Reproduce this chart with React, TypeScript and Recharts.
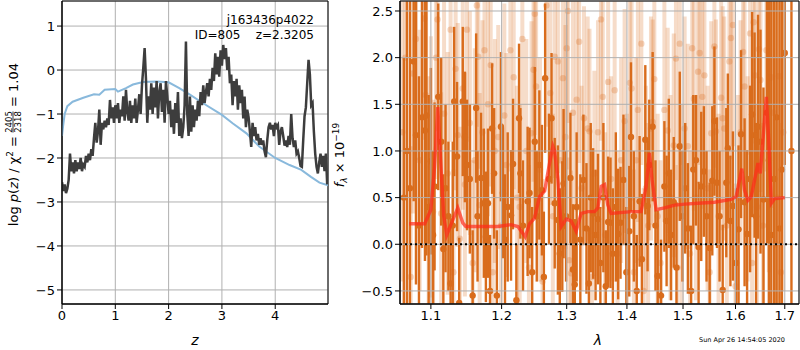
import {
  CartesianGrid,
  ErrorBar,
  Line,
  LineChart,
  ReferenceArea,
  ReferenceLine,
  Scatter,
  ComposedChart,
  XAxis,
  YAxis,
} from "recharts";

const FONT = "DejaVu Sans, sans-serif";

// left panel: log p(z), sampled every 0.025 in z
const zStep = 0.025;
const logPz = [
  -2.55, -2.75, -2.6, -2.8, -2.7, -2.5, -1.9, -2.3, -2.1, -2.35,
  -2.05, -2.3, -2.1, -2.25, -2.0, -2.3, -2.15, -2.2, -1.95, -2.1,
  -1.9, -2.05, -1.8, -1.95, -1.55, -1.2, -1.65, -1.4, -0.9, -1.7,
  -1.2, -1.35, -1.15, -1.3, -1.1, -1.25, -0.68, -1.1, -0.85, -1.2,
  -0.8, -1.1, -0.75, -1.2, -0.9, -1.05, -0.6, -1.15, -0.45, -0.95,
  -1.15, -0.7, -1.2, -0.8, -1.1, -0.65, -1.2, -0.9, -0.55, -1.0,
  -0.35, 0.05, 0.5, -0.2, -1.2, -0.6, -0.9, -0.3, -1.0, -0.4,
  -0.85, -0.25, -1.1, -0.5, -0.3, -0.95, -0.45, -1.2, -0.25, -0.6,
  -1.0, -0.7, -1.3, -0.9, -1.45, -0.75, -1.2, -0.5, -1.5, -1.1,
  -1.55, -1.3, -0.8, 0.65, -1.0, -1.5, -0.6, -1.4, -0.8, -1.3,
  -0.9, -1.15, -0.7, -1.05, -0.5, -0.8, -0.35, -0.75, -0.5, -0.3,
  -0.6, -0.2, -0.45, 0.05, -0.25, 0.38, -0.1, 0.3, -0.15, 0.45,
  0.1, 0.57, 0.25, 0.5, 0.0, 0.3, -0.3, -0.1, -0.8, -0.25,
  -0.6, -0.2, -0.9, -0.35, -0.75, -0.45, -1.1, -0.6, -1.3, -0.9,
  -1.07, -1.4, -1.75, -1.2, -1.5, -1.3, -1.6, -1.45, -1.7, -1.55,
  -1.7, -1.6, -1.85, -1.98, -1.6, -1.3, -1.2, -1.35, -1.25, -1.5,
  -1.2, -1.3, -1.25, -1.7, -1.4, -1.3, -1.5, -1.72, -1.6, -1.75,
  -1.5, -1.7, -1.0, -1.55, -1.75, -1.6, -1.9, -1.85, -2.0, -2.18,
  -2.2, -1.6, -1.05, -0.85, -0.3, 0.23, -0.1, -0.8, -0.75, -1.4,
  -1.9, -2.2, -2.35, -2.1, -1.9, -2.2, -1.95, -2.3, -1.9, -2.6,
];

// smooth prior curve
const priorZ = [0, 0.02, 0.05, 0.1, 0.2, 0.4, 0.6, 0.7, 0.8, 1.0, 1.05, 1.2, 1.33, 1.52, 1.77, 2.0, 2.2, 2.4, 2.64, 3.0, 3.2, 3.46, 3.7, 4.0, 4.27, 4.49, 4.67, 4.83, 4.99];
const priorLog = [-1.5, -1.28, -1.0, -0.82, -0.72, -0.63, -0.55, -0.56, -0.45, -0.43, -0.49, -0.41, -0.33, -0.27, -0.26, -0.28, -0.41, -0.56, -0.75, -1.02, -1.21, -1.44, -1.74, -2.0, -2.16, -2.27, -2.43, -2.56, -2.62];

const zTicks = [0, 1, 2, 3, 4];
const logTicks = [-5, -4, -3, -2, -1, 0, 1];

// right panel: spectrum (dark = primary beam, light = second beam)
const darkWave = [
  1.064, 1.068, 1.072, 1.077, 1.08, 1.084, 1.088, 1.092, 1.094, 1.097,
  1.1, 1.103, 1.105, 1.11, 1.114, 1.117, 1.12, 1.124, 1.127, 1.13,
  1.132, 1.136, 1.139, 1.144, 1.147, 1.15, 1.154, 1.158, 1.163, 1.165,
  1.17, 1.174, 1.177, 1.18, 1.183, 1.186, 1.189, 1.193, 1.199, 1.202,
  1.205, 1.209, 1.214, 1.217, 1.222, 1.226, 1.228, 1.232, 1.239, 1.242,
  1.246, 1.25, 1.253, 1.257, 1.261, 1.264, 1.266, 1.272, 1.276, 1.281,
  1.286, 1.289, 1.293, 1.295, 1.299, 1.306, 1.31, 1.313, 1.316, 1.322,
  1.327, 1.332, 1.336, 1.339, 1.343, 1.347, 1.351, 1.355, 1.36, 1.364,
  1.368, 1.372, 1.376, 1.381, 1.385, 1.389, 1.394, 1.399, 1.404, 1.407,
  1.412, 1.417, 1.422, 1.426, 1.432, 1.436, 1.439, 1.445, 1.45, 1.454,
  1.46, 1.466, 1.47, 1.474, 1.478, 1.483, 1.488, 1.494, 1.499, 1.504,
  1.509, 1.515, 1.519, 1.524, 1.529, 1.534, 1.539, 1.544, 1.55, 1.555,
  1.559, 1.564, 1.569, 1.575, 1.582, 1.585, 1.59, 1.595, 1.601, 1.606,
  1.611, 1.618, 1.623, 1.629, 1.633, 1.638, 1.641, 1.645, 1.65, 1.656,
  1.663, 1.667, 1.672, 1.678, 1.683, 1.689, 1.694, 1.7, 1.714,
];
const darkFlux = [
  0.5, 1.0, 0.6, 1.96, 1.17, 0.2, 1.36, 1.22, 1.38, 0.4,
  0.89, 0.1, 0.62, 1.58, 1.1, -0.05, 0.6, 0.3, -0.42, 0.2,
  1.53, 0.94, -0.63, 1.53, 1.15, 0.85, 0.7, -0.55, 1.46, 0.3,
  0.71, 0.44, 0.08, 0.44, -0.5, 1.24, 0.76, -0.55, 1.26, 0.55,
  0.05, 0.4, 0.31, 0.86, -0.6, 1.35, 0.76, 0.2, 0.46, 0.55,
  -0.3, 1.1, 0.3, 0.85, 0.58, -0.35, 1.78, 0.7, 1.35, 0.44,
  0.26, -0.1, 0.19, 0.65, 0.3, 0.71, -0.27, -0.43, 0.4, 0.05,
  0.69, 0.17, -0.42, 0.5, 0.33, 0.1, 0.27, -0.2, 0.5, -0.45,
  0.24, 0.23, -0.1, 0.4, 0.11, 0.23, 0.69, -0.3, 0.14, 1.15,
  0.3, -0.5, 0.46, -0.16, 1.12, 0.41, 0.85, 1.26, 0.2, -0.34,
  -0.55, 0.62, 0.25, 0.76, 0.1, 0.45, -0.25, 1.05, 0.3, 0.6,
  0.17, -0.5, 0.8, 0.9, -0.03, 0.62, 0.78, 0.3, -0.04, 0.68,
  1.32, 0.66, 0.3, -0.49, 0.66, 1.03, 0.25, 0.41, -0.2, 0.16,
  1.18, 0.45, 0.11, 0.7, 1.39, 1.17, 0.3, 1.26, 1.1, 0.48,
  1.41, 0.9, 0.1, 0.7, 1.36, 0.17, 0.8, 2.05, 1.0,
];
const darkErr = [
  1.5, 3, 3, 1.5, 1.6, 1.6, 1.4, 1.4, 1.5, 1.2,
  1.0, 0.9, 0.9, 1.0, 0.9, 0.8, 0.9, 0.8, 0.7, 0.9,
  0.8, 0.8, 0.7, 0.8, 0.7, 0.7, 0.8, 0.7, 0.8, 0.7,
  0.7, 0.8, 0.7, 0.8, 0.6, 0.7, 0.7, 0.7, 0.8, 0.7,
  0.7, 0.8, 0.7, 0.7, 0.6, 0.8, 0.7, 0.7, 0.8, 0.7,
  0.7, 0.8, 0.7, 0.8, 0.7, 0.7, 0.8, 0.7, 0.7, 0.7,
  0.8, 0.7, 0.7, 0.8, 0.7, 0.7, 0.7, 0.7, 0.8, 0.7,
  0.7, 0.7, 0.6, 0.8, 0.7, 0.7, 0.7, 0.6, 0.8, 0.6,
  0.7, 0.7, 0.7, 0.8, 0.7, 0.6, 0.7, 0.7, 0.7, 0.8,
  0.7, 0.6, 0.7, 0.7, 0.8, 0.7, 0.7, 0.8, 0.7, 0.7,
  0.6, 0.7, 0.7, 0.8, 0.7, 0.7, 0.7, 0.8, 0.7, 0.7,
  0.7, 0.7, 0.8, 0.7, 0.7, 0.8, 0.7, 0.7, 0.7, 0.8,
  0.8, 0.7, 0.7, 0.7, 0.8, 0.8, 0.7, 0.8, 0.8, 0.9,
  0.9, 0.9, 0.9, 1.0, 1.1, 1.1, 1.0, 1.2, 1.2, 1.2,
  1.4, 2.0, 3.0, 3.0, 3.0, 3.0, 3.0, 1.2, 5.0,
];

const lightWave = [
  1.062, 1.066, 1.073, 1.076, 1.08, 1.085, 1.091, 1.093, 1.097, 1.1,
  1.103, 1.107, 1.109, 1.114, 1.118, 1.123, 1.127, 1.131, 1.134, 1.137,
  1.14, 1.144, 1.147, 1.15, 1.154, 1.158, 1.161, 1.164, 1.166, 1.168,
  1.172, 1.175, 1.18, 1.184, 1.187, 1.19, 1.195, 1.199, 1.204, 1.207,
  1.213, 1.218, 1.223, 1.227, 1.231, 1.237, 1.241, 1.245, 1.248, 1.25,
  1.252, 1.258, 1.262, 1.268, 1.274, 1.278, 1.281, 1.286, 1.29, 1.294,
  1.298, 1.3, 1.302, 1.304, 1.307, 1.31, 1.316, 1.32, 1.324, 1.328,
  1.334, 1.337, 1.341, 1.345, 1.351, 1.356, 1.359, 1.363, 1.368, 1.373,
  1.379, 1.384, 1.39, 1.396, 1.4, 1.405, 1.408, 1.412, 1.416, 1.419,
  1.425, 1.429, 1.433, 1.437, 1.442, 1.445, 1.448, 1.454, 1.459, 1.466,
  1.472, 1.477, 1.483, 1.487, 1.49, 1.494, 1.498, 1.503, 1.509, 1.513,
  1.517, 1.52, 1.524, 1.528, 1.531, 1.536, 1.54, 1.546, 1.55, 1.553,
  1.559, 1.562, 1.567, 1.572, 1.575, 1.578, 1.583, 1.588, 1.591, 1.595,
  1.6, 1.605, 1.61, 1.615, 1.618, 1.624, 1.629, 1.633, 1.636, 1.639,
  1.643, 1.647, 1.65, 1.655, 1.662, 1.667, 1.672, 1.676, 1.681, 1.684,
  1.688, 1.692, 1.697,
];
const lightFlux = [
  1.2, 2.0, -0.35, 1.83, 2.2, 0.9, 2.42, 1.6, 0.5, 0.83,
  0.35, 2.0, 2.41, 0.33, 1.4, 0.76, 2.3, -0.3, 1.88, 1.17,
  0.06, 1.67, 0.64, 2.3, 1.3, -0.2, 0.9, 2.56, 2.01, 0.42,
  1.2, 2.08, 1.5, 1.92, -0.3, 1.0, 1.15, 0.2, 1.38, 0.85,
  2.08, 1.79, 0.5, 0.4, 2.2, 1.0, -0.25, 1.19, 1.87, 2.47,
  1.69, 0.8, -0.4, 2.56, 1.62, 0.3, 2.01, 1.96, 0.9, 1.78,
  1.15, 2.1, 2.5, -0.17, -0.31, 1.41, 1.55, 2.17, 0.6, 1.35,
  1.24, 1.21, -0.35, 0.76, 1.2, 2.41, 1.58, 0.1, 1.74, 0.7,
  1.65, -0.1, 0.9, 1.32, 0.3, 1.73, 1.67, -0.3, 0.9, 1.44,
  2.15, -0.5, 0.6, 0.2, 1.24, 1.31, 1.77, 0.3, -0.2, 1.44,
  1.22, 0.5, 1.06, 1.99, -0.25, 2.15, 0.4, 1.24, 1.05, -0.1,
  2.1, 1.56, 0.5, 1.85, 2.05, 1.58, 1.81, 0.6, -0.3, 1.19,
  2.12, 1.21, 0.3, 1.57, 1.35, 1.24, 0.2, 1.96, 2.21, 2.35,
  -0.45, 0.5, 1.2, 2.06, 1.69, 0.7, 2.26, -0.2, 2.38, 1.81,
  0.4, 2.09, 1.76, 0.2, 2.08, 1.0, 1.79, 1.41, 0.0, 0.5,
  1.8, -0.3, 1.2,
];
const lightErr = [
  1.6, 1.5, 1.4, 1.5, 1.3, 1.4, 1.3, 1.4, 1.3, 1.4,
  1.2, 1.3, 1.2, 1.3, 1.2, 1.3, 1.2, 1.1, 1.3, 1.2,
  1.2, 1.3, 1.2, 1.2, 1.2, 1.1, 1.2, 1.3, 1.2, 1.2,
  1.2, 1.3, 1.2, 1.3, 1.1, 1.2, 1.2, 1.1, 1.2, 1.2,
  1.3, 1.2, 1.2, 1.1, 1.3, 1.2, 1.1, 1.2, 1.2, 1.3,
  1.2, 1.2, 1.1, 1.3, 1.2, 1.1, 1.3, 1.2, 1.1, 1.2,
  1.2, 1.3, 1.2, 1.1, 1.1, 1.2, 1.2, 1.3, 1.1, 1.2,
  1.2, 1.1, 1.1, 1.1, 1.2, 1.3, 1.2, 1.1, 1.2, 1.1,
  1.2, 1.1, 1.1, 1.2, 1.1, 1.2, 1.2, 1.1, 1.1, 1.2,
  1.3, 1.1, 1.1, 1.1, 1.2, 1.1, 1.2, 1.1, 1.1, 1.2,
  1.1, 1.1, 1.2, 1.3, 1.1, 1.3, 1.1, 1.2, 1.1, 1.1,
  1.3, 1.2, 1.1, 1.2, 1.2, 1.2, 1.2, 1.1, 1.1, 1.2,
  1.3, 1.2, 1.1, 1.2, 1.2, 1.2, 1.1, 1.3, 1.3, 1.3,
  1.1, 1.1, 1.2, 1.3, 1.2, 1.1, 1.3, 1.1, 1.3, 1.2,
  1.1, 1.3, 1.2, 1.1, 1.3, 1.3, 1.4, 1.4, 1.4, 1.5,
  1.6, 1.6, 1.7,
];

// best-fit model
const modelWave = [
  1.071, 1.0917, 1.1, 1.105, 1.1094, 1.1132, 1.1176, 1.1217, 1.13, 1.137,
  1.144, 1.1483, 1.1626, 1.1946, 1.2138, 1.2243, 1.2353, 1.2419, 1.2496, 1.2573,
  1.2652, 1.2729, 1.2781, 1.2808, 1.286, 1.2912, 1.2995, 1.3071, 1.3152, 1.3233,
  1.3342, 1.3453, 1.3508, 1.3563, 1.362, 1.3675, 1.373, 1.4071, 1.4246, 1.4334,
  1.4393, 1.4439, 1.4511, 1.4662, 1.4845, 1.503, 1.5276, 1.5591, 1.5913, 1.6012,
  1.6079, 1.6125, 1.6179, 1.6246, 1.6312, 1.6381, 1.6448, 1.6495, 1.655, 1.6618,
  1.6667, 1.6721, 1.6791, 1.7,
];
const modelFlux = [
  0.22, 0.22, 0.37, 0.83, 1.47, 0.9, 0.3, 0.1, 0.26, 0.39,
  0.23, 0.19, 0.19, 0.19, 0.21, 0.19, 0.08, 0.22, 0.28, 0.51,
  0.57, 0.87, 1.05, 1.0, 0.7, 0.19, 0.27, 0.25, 0.14, 0.33,
  0.35, 0.35, 0.39, 0.62, 0.64, 0.42, 0.33, 0.35, 0.35, 0.62,
  0.98, 0.69, 0.37, 0.39, 0.42, 0.43, 0.44, 0.45, 0.48, 0.51,
  0.69, 0.81, 0.58, 0.47, 0.51, 0.69, 0.87, 0.76, 1.12, 1.58,
  1.12, 0.44, 0.49, 0.5,
];

const waveTicks = [1.1, 1.2, 1.3, 1.4, 1.5, 1.6, 1.7];
const fluxTicks = [-0.5, 0, 0.5, 1, 1.5, 2, 2.5];
const waveDomain: [number, number] = [1.059, 1.73];
const fluxDomain: [number, number] = [-0.64, 2.607];

const pzData = logPz.map((v, i) => ({ z: i * zStep, logp: v }));
const priorData = priorZ.map((z, i) => ({ z, logp: priorLog[i] }));
const darkData = darkWave.map((w, i) => ({ wave: w, flux: darkFlux[i], err: darkErr[i] }));
const lightData = lightWave.map((w, i) => ({ wave: w, flux: lightFlux[i], err: lightErr[i] }));
const modelData = modelWave.map((w, i) => ({ wave: w, flux: modelFlux[i] }));

const minus = (s: string) => s.replace("-", "\u2212");
const tickStyle = { fill: "#000", fontSize: 13, fontFamily: FONT };
const ORANGE = "#d96c1c";

const Dot = ({ cx, cy, fill }: any) => <circle cx={cx} cy={cy} r={3.2} fill={fill} />;

function PzPanel() {
  return (
    <LineChart width={340} height={350} margin={{ top: 1, right: 12, bottom: 16, left: 22 }}>
      <CartesianGrid stroke="#b0b0b0" strokeWidth={1} />
      <XAxis
        dataKey="z"
        type="number"
        domain={[0, 4.99]}
        ticks={zTicks}
        allowDataOverflow
        tick={tickStyle}
        tickSize={5}
        tickLine={{ stroke: "#000" }}
        axisLine={{ stroke: "#000" }}
        height={30}
      />
      <YAxis
        type="number"
        domain={[-5.32, 1.57]}
        ticks={logTicks}
        allowDataOverflow
        tickFormatter={(v: number) => minus(String(v))}
        tick={tickStyle}
        tickSize={5}
        tickLine={{ stroke: "#000" }}
        axisLine={{ stroke: "#000" }}
        width={40}
      />
      <Line data={priorData} dataKey="logp" stroke="#89b9dc" strokeWidth={2} dot={false} isAnimationActive={false} />
      <Line data={pzData} dataKey="logp" stroke="#3d3d3d" strokeWidth={2.5} dot={false} isAnimationActive={false} />
      <ReferenceArea x1={0} x2={4.99} y1={-5.32} y2={1.57} fill="none" stroke="#000" strokeWidth={1} ifOverflow="visible" />
    </LineChart>
  );
}

// the points and error bars, clipped to the plot box by the wrapping div
function SpecPoints() {
  return (
    <ComposedChart width={399} height={303} margin={{ top: 0, right: 0, bottom: 0, left: 0 }}>
      <XAxis dataKey="wave" type="number" scale="log" domain={waveDomain} allowDataOverflow hide />
      <YAxis dataKey="flux" type="number" domain={fluxDomain} allowDataOverflow hide />
      <Scatter data={lightData} fill="rgba(217,108,28,0.27)" shape={Dot} isAnimationActive={false}>
        <ErrorBar dataKey="err" direction="y" width={0} stroke="rgba(217,108,28,0.24)" strokeWidth={4} isAnimationActive={false} />
      </Scatter>
      <Scatter data={darkData} fill={ORANGE} shape={Dot} isAnimationActive={false}>
        <ErrorBar dataKey="err" direction="y" width={0} stroke={ORANGE} strokeWidth={2.4} isAnimationActive={false} />
      </Scatter>
    </ComposedChart>
  );
}

function SpecAxes() {
  return (
    <ComposedChart width={460} height={350} margin={{ top: 1, right: 1, bottom: 16, left: 20 }}>
      <XAxis
        dataKey="wave"
        type="number"
        scale="log"
        domain={waveDomain}
        ticks={waveTicks}
        allowDataOverflow
        tickFormatter={(v: number) => v.toFixed(1)}
        tick={tickStyle}
        tickSize={5}
        tickLine={{ stroke: "#000" }}
        axisLine={{ stroke: "#000" }}
        height={30}
      />
      <YAxis
        dataKey="flux"
        type="number"
        domain={fluxDomain}
        ticks={fluxTicks}
        allowDataOverflow
        tickFormatter={(v: number) => minus(v.toFixed(1))}
        tick={tickStyle}
        tickSize={5}
        tickLine={{ stroke: "#000" }}
        axisLine={{ stroke: "#000" }}
        width={40}
      />
      <CartesianGrid stroke="#b0b0b0" strokeWidth={1} />
      <Line data={modelData} dataKey="flux" stroke="#ff2a1a" strokeOpacity={0.7} strokeWidth={3.4} dot={false} isAnimationActive={false} />
      <ReferenceLine y={0} stroke="#000" strokeWidth={2} strokeDasharray="2 3" />
      <ReferenceArea x1={waveDomain[0]} x2={waveDomain[1]} y1={fluxDomain[0]} y2={fluxDomain[1]} fill="none" stroke="#000" strokeWidth={1} ifOverflow="visible" />
    </ComposedChart>
  );
}

export default function App() {
  return (
    <div style={{ position: "fixed", left: 0, top: 0, width: 800, height: 350, background: "#fff", fontFamily: FONT }}>
      <div style={{ position: "absolute", left: 0, top: 0 }}>
        <PzPanel />
      </div>
      <div style={{ position: "absolute", left: 400, top: 1, width: 399, height: 303, overflow: "hidden" }}>
        <SpecPoints />
      </div>
      <div style={{ position: "absolute", left: 340, top: 0 }}>
        <SpecAxes />
      </div>
      <svg width={800} height={350} style={{ position: "absolute", left: 0, top: 0, pointerEvents: "none" }} fontFamily={FONT}>
        <text x={314} y={24} textAnchor="end" fontSize={12}>j163436p4022</text>
        <text x={314} y={39} textAnchor="end" fontSize={12} xmlSpace="preserve">ID=805    z=2.3205</text>
        <text x={195} y={345} textAnchor="middle" fontSize={14} fontStyle="italic">z</text>
        <g transform="translate(13,152) rotate(-90)" fontSize={13}>
          <text x={16} y={4.5} textAnchor="end">
            log <tspan fontStyle="italic">p</tspan>(<tspan fontStyle="italic">z</tspan>) / χ<tspan dy={-5} fontSize={9}>2</tspan><tspan dy={5}> =</tspan>
          </text>
          <text x={30} y={-1.5} textAnchor="middle" fontSize={8.5}>2405</text>
          <line x1={19.5} x2={40.5} y1={0} y2={0} stroke="#000" strokeWidth={0.8} />
          <text x={30} y={8} textAnchor="middle" fontSize={8.5}>2318</text>
          <text x={45} y={4.5} textAnchor="start">= 1.04</text>
        </g>
        <text x={598} y={345} textAnchor="middle" fontSize={14} fontStyle="italic">λ</text>
        <g transform="translate(344,155) rotate(-90)" fontSize={13}>
          <text x={0} y={0} textAnchor="middle">
            <tspan fontStyle="italic">f</tspan><tspan dy={3} fontSize={9} fontStyle="italic">λ</tspan><tspan dy={-3}> × 10</tspan><tspan dy={-5} fontSize={9}>−19</tspan>
          </text>
        </g>
        <text x={742} y={342} textAnchor="middle" fontSize={6.5}>Sun Apr 26 14:54:05 2020</text>
      </svg>
    </div>
  );
}
